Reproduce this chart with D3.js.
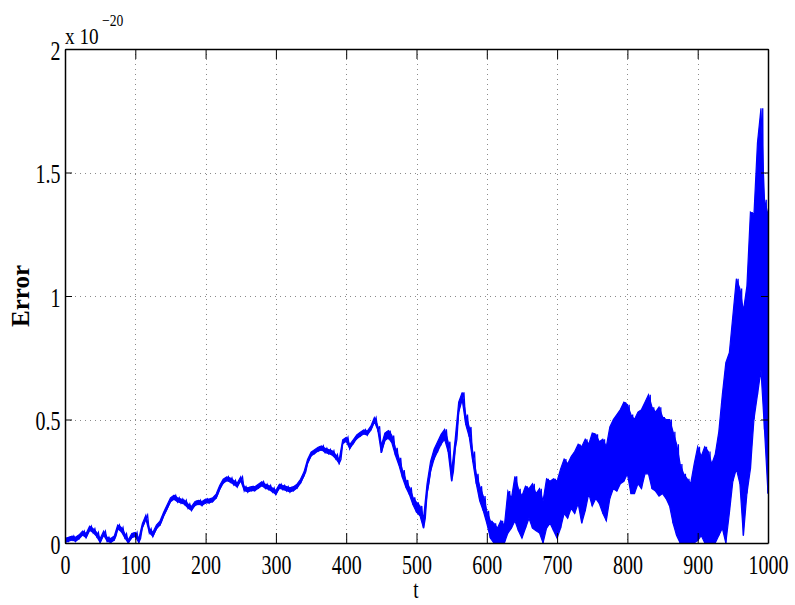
<!DOCTYPE html>
<html>
<head>
<meta charset="utf-8">
<script src="https://cdn.jsdelivr.net/npm/d3@7"></script>
<style>
  body { margin: 0; background: #fff; }
  text { font-family: "Liberation Serif", "Times New Roman", serif; fill: #000; }
</style>
</head>
<body>
<svg id="chart" width="795" height="605"></svg>
<script>
// Axis ticks
const xTicks = [0, 100, 200, 300, 400, 500, 600, 700, 800, 900, 1000];
const yTicks = [0, 0.5, 1, 1.5, 2];
const yTickLabels = ["0", "0.5", "1", "1.5", "2"];
const yExponent = "\u221220";

// Error (units of 1e-20) sampled every 5 time units from t = 0 to t = 1000:
// lower and upper extent of the trace inside each sample interval.
const sampleStep = 5;
const errLow = [
  0.002, 0.007, 0.012, 0.007, 0.017, 0.032, 0.022, 0.052, 0.042, 0.027,
  0.002, 0.032, 0.007, 0.002, 0.012, 0.057, 0.047, 0.022, 0.000, 0.022,
  0.027, 0.002, 0.062, 0.097, 0.042, 0.027, 0.057, 0.072, 0.107, 0.137,
  0.167, 0.177, 0.167, 0.162, 0.157, 0.142, 0.132, 0.152, 0.157, 0.152,
  0.162, 0.162, 0.167, 0.182, 0.217, 0.242, 0.252, 0.247, 0.237, 0.227,
  0.252, 0.212, 0.207, 0.212, 0.212, 0.222, 0.232, 0.222, 0.217, 0.207,
  0.197, 0.222, 0.217, 0.212, 0.207, 0.212, 0.222, 0.242, 0.272, 0.322,
  0.352, 0.362, 0.372, 0.377, 0.367, 0.362, 0.357, 0.342, 0.322, 0.402,
  0.412, 0.382, 0.402, 0.422, 0.432, 0.442, 0.437, 0.457, 0.492, 0.457,
  0.365, 0.415, 0.425, 0.405, 0.355, 0.315, 0.265, 0.225, 0.195, 0.155,
  0.125, 0.110, 0.060, 0.200, 0.290, 0.340, 0.370, 0.400, 0.420, 0.370,
  0.250, 0.380, 0.530, 0.580, 0.480, 0.430, 0.330, 0.240, 0.170, 0.130,
  0.080, 0.020, 0.000, 0.000, 0.000, 0.000, 0.040, 0.060, 0.090, 0.050,
  0.020, 0.060, 0.100, 0.060, 0.050, 0.040, 0.000, 0.060, 0.080, 0.050,
  0.020, 0.060, 0.120, 0.100, 0.140, 0.120, 0.160, 0.080, 0.130, 0.200,
  0.150, 0.180, 0.160, 0.120, 0.090, 0.180, 0.220, 0.210, 0.240, 0.250,
  0.280, 0.200, 0.200, 0.240, 0.220, 0.280, 0.280, 0.220, 0.210, 0.190,
  0.200, 0.180, 0.150, 0.080, 0.030, 0.000, 0.000, 0.000, 0.000, 0.000,
  0.010, 0.030, 0.000, 0.000, 0.000, 0.000, 0.030, 0.060, 0.000, 0.120,
  0.250, 0.300, 0.240, 0.030, 0.200, 0.300, 0.500, 0.600, 0.700, 0.460,
  0.200
];
const errHigh = [
  0.018, 0.023, 0.028, 0.023, 0.033, 0.048, 0.038, 0.068, 0.058, 0.043,
  0.018, 0.048, 0.023, 0.018, 0.028, 0.073, 0.063, 0.038, 0.013, 0.038,
  0.043, 0.018, 0.078, 0.113, 0.058, 0.043, 0.073, 0.088, 0.123, 0.153,
  0.183, 0.193, 0.183, 0.178, 0.173, 0.158, 0.148, 0.168, 0.173, 0.168,
  0.178, 0.178, 0.183, 0.198, 0.233, 0.258, 0.268, 0.263, 0.253, 0.243,
  0.268, 0.228, 0.223, 0.228, 0.228, 0.238, 0.248, 0.238, 0.233, 0.223,
  0.213, 0.238, 0.233, 0.228, 0.223, 0.228, 0.238, 0.258, 0.288, 0.338,
  0.368, 0.378, 0.388, 0.393, 0.383, 0.378, 0.373, 0.358, 0.338, 0.418,
  0.428, 0.398, 0.418, 0.438, 0.448, 0.458, 0.453, 0.473, 0.508, 0.473,
  0.395, 0.445, 0.455, 0.435, 0.385, 0.345, 0.295, 0.255, 0.225, 0.185,
  0.165, 0.150, 0.100, 0.240, 0.330, 0.380, 0.410, 0.440, 0.460, 0.410,
  0.290, 0.420, 0.570, 0.610, 0.520, 0.470, 0.370, 0.280, 0.230, 0.190,
  0.130, 0.090, 0.080, 0.060, 0.090, 0.070, 0.210, 0.180, 0.270, 0.220,
  0.190, 0.230, 0.220, 0.240, 0.200, 0.220, 0.170, 0.260, 0.250, 0.260,
  0.250, 0.300, 0.340, 0.320, 0.350, 0.370, 0.400, 0.390, 0.420, 0.400,
  0.445, 0.440, 0.410, 0.420, 0.390, 0.470, 0.500, 0.520, 0.540, 0.570,
  0.560, 0.520, 0.500, 0.530, 0.540, 0.570, 0.600, 0.550, 0.530, 0.550,
  0.510, 0.500, 0.500, 0.450, 0.400, 0.320, 0.280, 0.260, 0.240, 0.320,
  0.390, 0.350, 0.390, 0.370, 0.320, 0.360, 0.450, 0.600, 0.730, 0.770,
  0.920, 1.070, 1.030, 0.940, 1.040, 1.340, 1.330, 1.620, 1.760, 1.390,
  1.330
];

const svg = d3.select("#chart");
const box = { left: 65, right: 768, top: 49, bottom: 543 };
const x = d3.scaleLinear().domain([0, 1000]).range([box.left, box.right]);
const y = d3.scaleLinear().domain([0, 2]).range([box.bottom, box.top]);

const labelSize = 27;
const squeeze = 0.74;

// Dotted grid
const grid = svg.append("g").attr("stroke", "#8a8a8a").attr("stroke-width", 1)
  .attr("stroke-dasharray", "1,4");
grid.selectAll("line.vx").data(xTicks.filter(d => d > 0 && d < 1000)).join("line")
  .attr("x1", d => Math.round(x(d)) + 0.5).attr("x2", d => Math.round(x(d)) + 0.5)
  .attr("y1", box.top).attr("y2", box.bottom);
grid.selectAll("line.hy").data(yTicks.filter(d => d > 0 && d < 2)).join("line")
  .attr("y1", d => Math.round(y(d)) + 0.5).attr("y2", d => Math.round(y(d)) + 0.5)
  .attr("x1", box.left).attr("x2", box.right);

// Trace: the band swept by the fast oscillation, plus the oscillation itself
svg.append("clipPath").attr("id", "plotClip").append("rect")
  .attr("x", box.left).attr("y", box.top)
  .attr("width", box.right - box.left).attr("height", box.bottom - box.top + 1);

const samples = errLow.map((lo, i) => ({ t: i * sampleStep, lo, hi: errHigh[i] }));
const plot = svg.append("g").attr("clip-path", "url(#plotClip)");

const band = d3.area()
  .x(d => x(d.t))
  .y0(d => y(d.lo))
  .y1(d => y(d.hi));
plot.append("path").datum(samples)
  .attr("fill", "#0000ff").attr("stroke", "#0000ff").attr("stroke-width", 1.2)
  .attr("d", band);

const trace = [];
samples.forEach(d => {
  trace.push([d.t, d.lo]);
  trace.push([d.t + sampleStep / 2, d.hi]);
});
const line = d3.line().x(d => x(d[0])).y(d => y(d[1]));
plot.append("path").datum(trace)
  .attr("fill", "none").attr("stroke", "#0000ff").attr("stroke-width", 1.3)
  .attr("d", line);

// Axes
function styleAxis(g) {
  g.attr("font-family", null).attr("font-size", labelSize);
  g.select(".domain").attr("stroke", "#000").attr("stroke-width", 1.5);
  g.selectAll(".tick line").attr("stroke", "#000").attr("stroke-width", 1);
}

const axisB = svg.append("g").attr("transform", `translate(0,${box.bottom})`)
  .call(d3.axisBottom(x).tickValues(xTicks).tickSize(-10).tickSizeOuter(0)
    .tickFormat(d3.format("d")));
styleAxis(axisB);
axisB.selectAll(".tick text").attr("y", 31).attr("dy", null)
  .attr("transform", `scale(${squeeze},1)`);

const axisT = svg.append("g").attr("transform", `translate(0,${box.top})`)
  .call(d3.axisTop(x).tickValues(xTicks).tickSize(-10).tickSizeOuter(0).tickFormat(""));
styleAxis(axisT);

const axisL = svg.append("g").attr("transform", `translate(${box.left},0)`)
  .call(d3.axisLeft(y).tickValues(yTicks).tickSize(-7).tickSizeOuter(0)
    .tickFormat((d, i) => yTickLabels[i]));
styleAxis(axisL);
axisL.selectAll(".tick text").attr("x", -4.5 / squeeze).attr("dy", "0.37em")
  .attr("transform", `scale(${squeeze},1)`);

const axisR = svg.append("g").attr("transform", `translate(${box.right},0)`)
  .call(d3.axisRight(y).tickValues(yTicks).tickSize(-7).tickSizeOuter(0).tickFormat(""));
styleAxis(axisR);

// Titles
svg.append("text")
  .attr("transform", `translate(416,598) scale(${squeeze},1)`)
  .attr("text-anchor", "middle").attr("font-size", 26).text("t");

svg.append("text")
  .attr("transform", "translate(29,296) rotate(-90)")
  .attr("text-anchor", "middle").attr("font-size", 25).attr("font-weight", "bold")
  .text("Error");

// Exponent of the y values
svg.append("text")
  .attr("transform", "translate(65,43.5) scale(0.8,1)")
  .attr("font-size", 24).text("x 10");
svg.append("text")
  .attr("transform", "translate(102,26) scale(0.85,1)")
  .attr("font-size", 16).text(yExponent);
</script>
</body>
</html>
